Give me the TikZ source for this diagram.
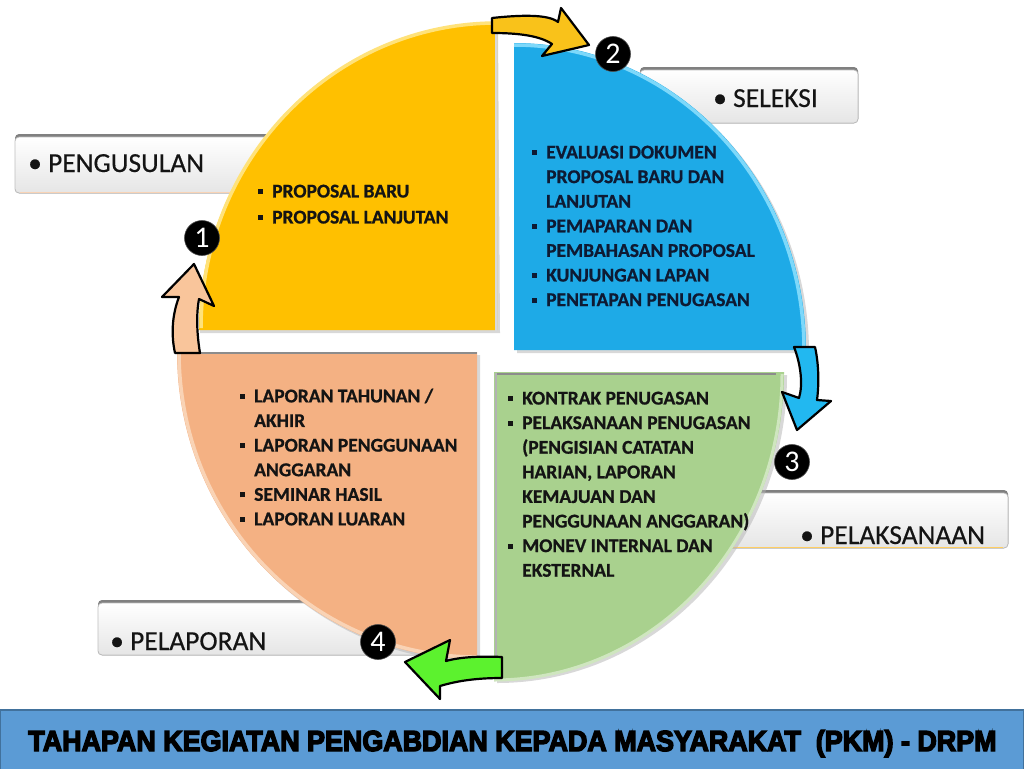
\documentclass[tikz,border=0pt]{standalone}
\usepackage{fontspec}
\setmainfont{Carlito}
\newfontfamily\titlefont[FakeBold=5]{Liberation Sans Bold}
\newfontfamily\qfont[FakeBold=0.8]{Carlito Bold}
\newfontfamily\lblfont[FakeBold=0.4]{Carlito}
\definecolor{qyellow}{HTML}{FFC000}
\definecolor{qyellowrim}{HTML}{FFE27A}
\definecolor{qblue}{HTML}{1EAAE7}
\definecolor{qbluerim}{HTML}{7DD8FA}
\definecolor{qgreen}{HTML}{A9D18E}
\definecolor{qgreenrim}{HTML}{CFE6BF}
\definecolor{qorange}{HTML}{F4B183}
\definecolor{qorangerim}{HTML}{F9D3B5}
\definecolor{barblue}{HTML}{5B9BD5}
\definecolor{barline}{HTML}{41719C}
\definecolor{arryellow}{HTML}{F9C21A}
\definecolor{arrblue}{HTML}{22B8F0}
\definecolor{arrgreen}{HTML}{5CF22E}
\definecolor{arrpeach}{HTML}{F9C59B}
\definecolor{txt}{HTML}{141414}
\definecolor{txtnavy}{HTML}{0E1A33}
\newcommand{\sqb}{\makebox[14pt][l]{\raisebox{3.5pt}{\rule{4.8pt}{4.8pt}}}}
\newcommand{\ind}{\hspace*{14pt}}
\begin{document}
\begin{tikzpicture}[x=1pt,y=-1pt,
  labelbox/.style={rounded corners=4pt, top color=white, bottom color=black!10, draw=black!25, line width=0.8pt},
  boxshadow/.style={rounded corners=4pt, fill=black!50},
  labeltext/.style={anchor=base west, inner sep=0pt, font=\lblfont\fontsize{27.5}{30}\selectfont, text=txt},
  qtext/.style={anchor=north west, inner sep=0pt, align=left, font=\qfont\fontsize{19.5}{24.6}\selectfont, text=txt},
  numcircle/.style={circle, fill=black, draw=black!70, line width=0.6pt, minimum size=35pt, inner sep=0pt, text=white, font=\fontsize{30}{30}\selectfont},
  blockarrow/.style={draw=black, line width=2.2pt, line join=round},
  qshadow/.style={fill=black!30, opacity=0.5}
]
\useasboundingbox (0,0) rectangle (1024,768);
\fill[white] (0,0) rectangle (1024,768);

% ---- label boxes (behind quadrants)
\fill[boxshadow] (15,134) rectangle (300,193);
\fill[labelbox] (15,137) rectangle (300,193);
\draw[qorangerim, line width=1pt] (20,192.5) -- (295,192.5);
\fill[boxshadow] (640,67) rectangle (858,123);
\fill[labelbox] (640,70) rectangle (858,123);
\fill[boxshadow] (700,490) rectangle (1008,548);
\fill[labelbox] (700,493) rectangle (1008,548);
\draw[qyellowrim!80!orange, line width=1pt] (705,547.5) -- (1003,547.5);
\fill[boxshadow] (98,600) rectangle (420,655);
\fill[labelbox] (98,603) rectangle (420,655);

\node[labeltext] (lbl1) at (28,172) {\textbullet\ PENGUSULAN};
\node[labeltext] (lbl2) at (713,107) {\textbullet\ SELEKSI};
\node[labeltext] (lbl3) at (800,544) {\textbullet\ PELAKSANAAN};
\node[labeltext] (lbl4) at (110,650) {\textbullet\ PELAPORAN};

% ---- quadrant shadows
\fill[qshadow] (500,333) -- (200,333) arc[start angle=180, end angle=270, x radius=298, y radius=307] -- cycle;
\fill[qshadow] (517,353) -- (517,46) arc[start angle=270, end angle=360, x radius=292, y radius=307] -- cycle;
\fill[qshadow] (497,375) -- (787,375) arc[start angle=0, end angle=90, x radius=290, y radius=308] -- cycle;
\fill[qshadow] (480,355) -- (480,662) arc[start angle=90, end angle=180, x radius=300, y radius=307] -- cycle;

% ---- quadrants
\fill[qyellow] (497,330) -- (199,330) arc[start angle=180, end angle=270, x radius=298, y radius=307] -- cycle;
\draw[qyellowrim, line width=3.5pt] (201,328) arc[start angle=180, end angle=270, x radius=296, y radius=305];
\fill[qblue] (514,350) -- (514,43) arc[start angle=270, end angle=360, x radius=292, y radius=307] -- cycle;
\draw[qbluerim, line width=3.5pt] (514,45) arc[start angle=270, end angle=360, x radius=290, y radius=305];
\fill[qgreen] (494,372) -- (784,372) arc[start angle=0, end angle=90, x radius=290, y radius=308] -- cycle;
\draw[qgreenrim, line width=3pt] (782,374) arc[start angle=0, end angle=90, x radius=288, y radius=306];
\fill[qorange] (477,352) -- (477,659) arc[start angle=90, end angle=180, x radius=300, y radius=307] -- cycle;
\draw[qorangerim, line width=3.5pt] (477,657) arc[start angle=90, end angle=180, x radius=298, y radius=305];
% inner edge shading lines
\draw[black!45, line width=2pt] (180,353) -- (477,353);
\draw[black!45, line width=2pt] (496,373.5) -- (776,373.5);
\draw[black!30, line width=2pt] (495.5,373) -- (495.5,679);
\draw[white!85!black, line width=1.5pt] (496,331) -- (496,30);

% ---- quadrant texts
\node[qtext, font=\qfont\fontsize{19.5}{26}\selectfont] (q1) at (258,184.5) {\sqb PROPOSAL BARU\\ \sqb PROPOSAL LANJUTAN};
\node[qtext, text=txtnavy] (q2) at (532,145.5) {\sqb EVALUASI DOKUMEN\\ \ind PROPOSAL BARU DAN\\ \ind LANJUTAN\\ \sqb PEMAPARAN DAN\\ \ind PEMBAHASAN PROPOSAL\\ \sqb KUNJUNGAN LAPAN\\ \sqb PENETAPAN PENUGASAN};
\node[qtext] (q3) at (508,391.5) {\sqb KONTRAK PENUGASAN\\ \sqb PELAKSANAAN PENUGASAN\\ \ind (PENGISIAN CATATAN\\ \ind HARIAN, LAPORAN\\ \ind KEMAJUAN DAN\\ \ind PENGGUNAAN ANGGARAN)\\ \sqb MONEV INTERNAL DAN\\ \ind EKSTERNAL};
\node[qtext] (q4) at (240,388.5) {\sqb LAPORAN TAHUNAN /\\ \ind AKHIR\\ \sqb LAPORAN PENGGUNAAN\\ \ind ANGGARAN\\ \sqb SEMINAR HASIL\\ \sqb LAPORAN LUARAN};

% ---- block arrows
\filldraw[blockarrow, fill=arryellow] (492,18) .. controls (520,15) and (548,14) .. (558,22) -- (561,8) -- (589,45) -- (542,56) -- (552,44) .. controls (540,36) and (520,33) .. (492,33) -- cycle;
\filldraw[blockarrow, fill=arrblue] (794,347) -- (815,347) .. controls (819,365) and (819,385) .. (817,400) -- (831,401) -- (797,430) -- (782,392) -- (799,398) .. controls (803,385) and (801,365) .. (794,347) -- cycle;
\filldraw[blockarrow, fill=arrgreen] (502,657) .. controls (480,656) and (460,657) .. (446,661) -- (450,640) -- (405,662) -- (440,699) -- (440,686) .. controls (460,680) and (480,678) .. (502,678) -- cycle;
\filldraw[blockarrow, fill=arrpeach] (175,353) .. controls (171,335) and (172,315) .. (179,297) -- (162,297) -- (194,264) -- (214,306) -- (199,299) .. controls (196,315) and (197,335) .. (200,353) -- cycle;

% ---- number circles
\node[numcircle] (n1) at (202,238) {1};
\node[numcircle] (n2) at (613,54) {2};
\node[numcircle] (n3) at (792,462) {3};
\node[numcircle] (n4) at (378,642) {4};

% ---- title bar
\draw[fill=barblue, draw=barline, line width=1.5pt] (0,710) rectangle (1024,770);
\node[anchor=base, inner sep=0pt, text=black] (title) at (512.5,751) {\titlefont\fontsize{29}{29}\selectfont\scalebox{0.927}[1]{TAHAPAN KEGIATAN PENGABDIAN KEPADA MASYARAKAT\ \ (PKM) - DRPM}};
\end{tikzpicture}
\end{document}
